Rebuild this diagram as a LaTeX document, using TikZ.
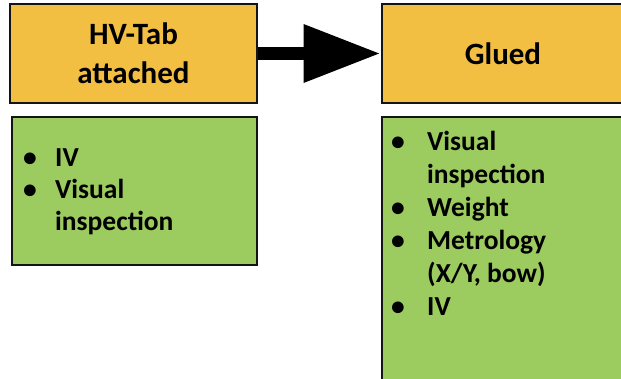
\documentclass[tikz,border=0pt]{standalone}
\usepackage{fontspec}
\setmainfont{Carlito}
\usepackage{xcolor}
\usepackage{tikz}
\usetikzlibrary{positioning,arrows.meta}
\definecolor{naranja}{HTML}{F3BF42}
\definecolor{verde}{HTML}{9CCB5F}
\definecolor{borde}{HTML}{141414}

\begin{document}
\begin{tikzpicture}[x=1pt, y=-1pt,
  titulo/.style={draw=borde, line width=2.8pt, fill=naranja, align=center, inner sep=0pt,
    font=\fontsize{31}{39}\selectfont\bfseries},
  lista/.style={draw=borde, line width=2.8pt, fill=verde, inner sep=0pt},
  item/.style={anchor=base west, inner sep=0pt, font=\fontsize{27.5}{32}\selectfont\bfseries},
  punto/.style={anchor=base, inner sep=0pt, font=\fontsize{27.5}{32}\selectfont\bfseries},
  fl/.style={line width=13pt, color=black, -{Triangle[length=77pt, width=55pt]}}]
  \useasboundingbox (0,0) rectangle (621,379);
  \clip (0,0) rectangle (621,379);
  % cabeceras
  \node[titulo, minimum width=247pt, minimum height=99pt] (tab) at (133.5,53.5) {HV-Tab\\attached};
  \node[titulo, minimum width=242pt, minimum height=99pt] (glued) at (503,53.5) {Glued};
  \draw[fl] (tab.east) -- (glued.west);
  % cajas de pruebas
  \node[lista, minimum width=245pt, minimum height=148pt] (pruebasA) at (134.5,191) {};
  \node[lista, minimum width=242pt, minimum height=273pt] (pruebasB) at (503,253.5) {};
  % HV-Tab attached
  \node[punto] (pa1) at (30,167) {\textbullet};
  \node[item]  (ta1) at (55,167) {IV};
  \node[punto] (pa2) at (30,199) {\textbullet};
  \node[item]  (ta2) at (55,199) {Visual};
  \node[item]  (ta3) at (55,231) {inspection};
  % Glued
  \node[punto] (pb1) at (398,151) {\textbullet};
  \node[item]  (tb1) at (427,151) {Visual};
  \node[item]  (tb2) at (427,184) {inspection};
  \node[punto] (pb2) at (398,217) {\textbullet};
  \node[item]  (tb3) at (427,217) {Weight};
  \node[punto] (pb3) at (398,250) {\textbullet};
  \node[item]  (tb4) at (427,250) {Metrology};
  \node[item]  (tb5) at (427,283) {(X/Y, bow)};
  \node[punto] (pb4) at (398,316) {\textbullet};
  \node[item]  (tb6) at (427,316) {IV};
\end{tikzpicture}
\end{document}
